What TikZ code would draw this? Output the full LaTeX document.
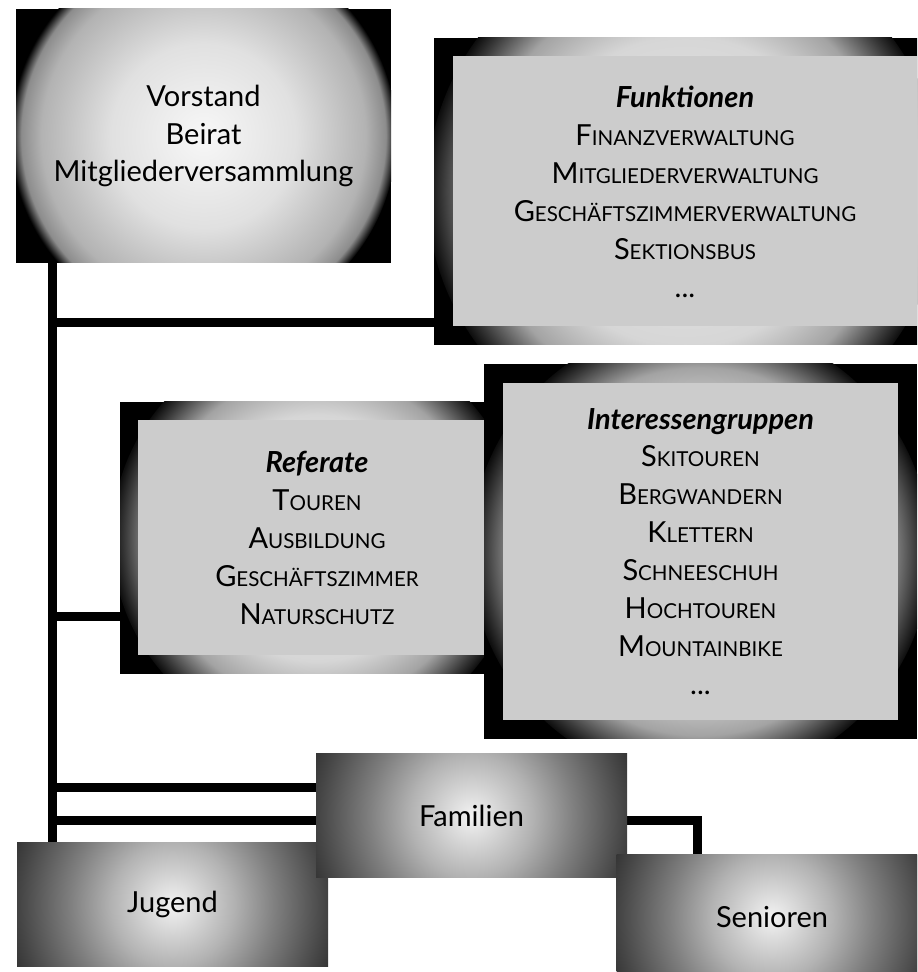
\documentclass[tikz,border=0pt]{standalone}
\usepackage{fontspec}
\setmainfont{Lato}
\usetikzlibrary{backgrounds}

\pgfdeclareradialshading{headglow}{\pgfpoint{0bp}{0bp}}{%
  rgb(0bp)=(.97,.97,.97); rgb(12bp)=(.88,.88,.88); rgb(21bp)=(.70,.70,.70);
  rgb(23.6bp)=(.55,.55,.55); rgb(25bp)=(0,0,0); rgb(50bp)=(0,0,0)}
\pgfdeclareradialshading{frameglow}{\pgfpoint{0bp}{0bp}}{%
  rgb(0bp)=(.92,.92,.92); rgb(15bp)=(.84,.84,.84); rgb(20bp)=(.64,.64,.64);
  rgb(23.5bp)=(.22,.22,.22); rgb(25bp)=(.05,.05,.05); rgb(50bp)=(.05,.05,.05)}
\pgfdeclareradialshading{groupglow}{\pgfpoint{0bp}{0bp}}{%
  rgb(0bp)=(.95,.95,.95); rgb(9bp)=(.70,.70,.70); rgb(15bp)=(.50,.50,.50);
  rgb(22.5bp)=(.27,.27,.27); rgb(25bp)=(.20,.20,.20); rgb(50bp)=(.20,.20,.20)}

\newcommand{\smc}[2]{#1{\fontsize{11.7}{21.6}\selectfont #2}}
\newcommand{\hd}[1]{\textbf{\textit{#1}}}

\tikzset{
  glow/.style 2 args={path picture={
      \shade[shading=#1] (path picture bounding box.center) circle (#2);}},
  box/.style={rectangle, inner sep=0pt, align=center},
  listbox/.style={box, fill=black!20},
  groupbox/.style={box, fill=black!80, minimum width=6.22cm,
      minimum height=2.48cm, glow={groupglow}{3.4}},
  conn/.style={draw=black, line width=0.18cm}
}

\begin{document}
\begin{tikzpicture}[font=\fontsize{16.5}{21.6}\selectfont]
  \useasboundingbox (0,0) rectangle (18.34,19.44);
  \clip (0,0) rectangle (18.34,19.44);

  % board
  \node[box, fill=black, minimum width=7.5cm, minimum height=5.08cm,
        glow={headglow}{3.86}] (vorstand) at (4.07, 16.72)
    {Vorstand\\Beirat\\Mitgliederversammlung};

  % functions
  \node[box, fill=black, minimum width=10.04cm, minimum height=6.14cm,
        glow={frameglow}{5.16}] (funk) at (13.7, 15.61) {};
  \node[listbox, minimum width=9.28cm, minimum height=5.4cm] (funktxt) at (13.7, 15.61)
    {\hd{Funktionen}\\\smc{F}{INANZVERWALTUNG}\\\smc{M}{ITGLIEDERVERWALTUNG}\\
     \smc{G}{ESCHÄFTSZIMMERVERWALTUNG}\\\smc{S}{EKTIONSBUS}\\...};

  % departments
  \node[box, fill=black, minimum width=7.88cm, minimum height=5.44cm,
        glow={frameglow}{4.1}] (ref) at (6.34, 8.68) {};
  \node[listbox, minimum width=7.16cm, minimum height=4.7cm] (reftxt) at (6.34, 8.68)
    {\hd{Referate}\\\smc{T}{OUREN}\\\smc{A}{USBILDUNG}\\
     \smc{G}{ESCHÄFTSZIMMER}\\\smc{N}{ATURSCHUTZ}};

  % interest groups
  \node[box, fill=black, minimum width=8.66cm, minimum height=7.5cm,
        glow={frameglow}{4.6}] (ig) at (14.01, 8.41) {};
  \node[listbox, minimum width=7.9cm, minimum height=6.74cm] (igtxt) at (14.01, 8.41)
    {\hd{Interessengruppen}\\\smc{S}{KITOUREN}\\\smc{B}{ERGWANDERN}\\
     \smc{K}{LETTERN}\\\smc{S}{CHNEESCHUH}\\\smc{H}{OCHTOUREN}\\
     \smc{M}{OUNTAINBIKE}\\...};

  % groups
  \node[groupbox] (jugend) at (3.45, 1.35) {Jugend};
  \node[groupbox] (fam) at (9.43, 3.12) {Familien};
  \node[groupbox] (sen) at (15.44, 1.1) {Senioren};

  \coordinate (jfunk) at (1.04, 12.99);
  \coordinate (jref) at (1.04, 7.11);
  \coordinate (jfam) at (1.04, 3.68);
  \coordinate (jsen) at (1.04, 3.02);
  \coordinate (sencorner) at (13.94, 3.02);

  \begin{scope}[on background layer]
    \draw[conn] (jfunk |- vorstand.south) -- (jfunk |- jugend.north);
    \draw[conn] (jfunk) -- (jfunk -| funk.west);
    \draw[conn] (jref) -- (jref -| ref.west);
    \draw[conn] (jfam) -- (jfam -| fam.west);
    \draw[conn] (jsen) -- (sencorner) -- (sencorner |- sen.north);
  \end{scope}
\end{tikzpicture}
\end{document}
